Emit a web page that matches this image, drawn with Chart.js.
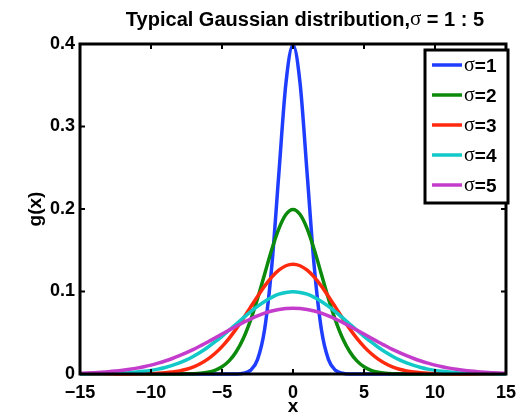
<!DOCTYPE html>
<html>
<head>
<meta charset="utf-8">
<script src="https://cdn.jsdelivr.net/npm/chart.js"></script>
<style>
  html, body { margin: 0; padding: 0; background: #fff; }
  #wrap { width: 524px; height: 419px; position: relative; }
</style>
</head>
<body>
<div id="wrap"><canvas id="gauss"></canvas></div>
<script>
// x positions (step 0.5)
const xValues = [-15,-14.5,-14,-13.5,-13,-12.5,-12,-11.5,-11,-10.5,-10,-9.5,-9,-8.5,-8,-7.5,-7,-6.5,-6,-5.5,-5,-4.5,-4,-3.5,-3,-2.5,-2,-1.5,-1,-0.5,0,0.5,1,1.5,2,2.5,3,3.5,4,4.5,5,5.5,6,6.5,7,7.5,8,8.5,9,9.5,10,10.5,11,11.5,12,12.5,13,13.5,14,14.5,15];

const sigmaLabels = ['1', '2', '3', '4', '5'];
const seriesColors = ['#1f3dff', '#0b8a0b', '#ff2a0e', '#12c8c8', '#c43ccc'];

const sigma1 = [0,0,0,0,0,0,0,0,0,0,0,0,0,0,0,0,0,0,0,0,0,0,0.0001,0.0009,0.0044,0.0175,0.0540,0.1295,0.2420,0.3521,0.3989,0.3521,0.2420,0.1295,0.0540,0.0175,0.0044,0.0009,0.0001,0,0,0,0,0,0,0,0,0,0,0,0,0,0,0,0,0,0,0,0,0,0];
const sigma2 = [0,0,0,0,0,0,0,0,0,0,0,0,0,0,0.0001,0.0002,0.0004,0.0010,0.0022,0.0045,0.0088,0.0159,0.0270,0.0431,0.0648,0.0913,0.1210,0.1506,0.1760,0.1933,0.1995,0.1933,0.1760,0.1506,0.1210,0.0913,0.0648,0.0431,0.0270,0.0159,0.0088,0.0045,0.0022,0.0010,0.0004,0.0002,0.0001,0,0,0,0,0,0,0,0,0,0,0,0,0,0];
const sigma3 = [0,0,0,0,0,0,0,0.0001,0.0002,0.0003,0.0005,0.0009,0.0015,0.0024,0.0038,0.0058,0.0087,0.0127,0.0180,0.0248,0.0332,0.0432,0.0547,0.0673,0.0807,0.0940,0.1065,0.1174,0.1258,0.1312,0.1330,0.1312,0.1258,0.1174,0.1065,0.0940,0.0807,0.0673,0.0547,0.0432,0.0332,0.0248,0.0180,0.0127,0.0087,0.0058,0.0038,0.0024,0.0015,0.0009,0.0005,0.0003,0.0002,0.0001,0,0,0,0,0,0,0];
const sigma4 = [0.0001,0.0001,0.0002,0.0003,0.0005,0.0008,0.0011,0.0016,0.0023,0.0032,0.0044,0.0059,0.0079,0.0104,0.0135,0.0172,0.0216,0.0266,0.0324,0.0388,0.0457,0.0530,0.0605,0.0680,0.0753,0.0820,0.0880,0.0929,0.0967,0.0989,0.0997,0.0989,0.0967,0.0929,0.0880,0.0820,0.0753,0.0680,0.0605,0.0530,0.0457,0.0388,0.0324,0.0266,0.0216,0.0172,0.0135,0.0104,0.0079,0.0059,0.0044,0.0032,0.0023,0.0016,0.0011,0.0008,0.0005,0.0003,0.0002,0.0001,0.0001];
const sigma5 = [0.0009,0.0012,0.0016,0.0021,0.0027,0.0035,0.0045,0.0057,0.0071,0.0088,0.0108,0.0131,0.0158,0.0188,0.0222,0.0259,0.0299,0.0343,0.0388,0.0436,0.0484,0.0532,0.0579,0.0625,0.0666,0.0704,0.0737,0.0763,0.0782,0.0794,0.0798,0.0794,0.0782,0.0763,0.0737,0.0704,0.0666,0.0625,0.0579,0.0532,0.0484,0.0436,0.0388,0.0343,0.0299,0.0259,0.0222,0.0188,0.0158,0.0131,0.0108,0.0088,0.0071,0.0057,0.0045,0.0035,0.0027,0.0021,0.0016,0.0012,0.0009];
const allSeries = [sigma1, sigma2, sigma3, sigma4, sigma5];

const xTicks = [-15, -10, -5, 0, 5, 10, 15];
const yTicks = [0, 0.1, 0.2, 0.3, 0.4];

const SANS = '"Liberation Sans", Arial, sans-serif';
const SERIF = '"Liberation Serif", "DejaVu Serif", serif';

// draw "σ" in serif followed by the rest in bold sans
function drawSigmaText(ctx, pre, rest, x, y, size, align) {
  ctx.save();
  ctx.textBaseline = 'middle';
  ctx.font = `bold ${size}px ${SANS}`;
  const wPre = ctx.measureText(pre).width;
  const wRest = ctx.measureText(rest).width;
  ctx.font = `${size + 1}px ${SERIF}`;
  const wSig = ctx.measureText('σ').width;
  const total = wPre + wSig + wRest;
  let cx = align === 'center' ? x - total / 2 : x;
  ctx.fillStyle = '#000';
  ctx.textAlign = 'left';
  ctx.font = `bold ${size}px ${SANS}`;
  ctx.fillText(pre, cx, y);
  cx += wPre;
  ctx.font = `${size + 1}px ${SERIF}`;
  ctx.fillText('σ', cx, y - 1);
  cx += wSig;
  ctx.font = `bold ${size}px ${SANS}`;
  ctx.fillText(rest, cx, y);
  ctx.restore();
}

const matlabFrame = {
  id: 'matlabFrame',
  afterDraw(chart) {
    const { ctx, chartArea: a, scales } = chart;
    ctx.save();
    // tick marks pointing inward on all four sides
    ctx.strokeStyle = '#000';
    ctx.lineWidth = 2;
    const tl = 5;
    xTicks.forEach(v => {
      const px = scales.x.getPixelForValue(v);
      ctx.beginPath();
      ctx.moveTo(px, a.bottom); ctx.lineTo(px, a.bottom - tl);
      ctx.moveTo(px, a.top); ctx.lineTo(px, a.top + tl);
      ctx.stroke();
    });
    yTicks.forEach(v => {
      const py = scales.y.getPixelForValue(v);
      ctx.beginPath();
      ctx.moveTo(a.left, py); ctx.lineTo(a.left + tl, py);
      ctx.moveTo(a.right, py); ctx.lineTo(a.right - tl, py);
      ctx.stroke();
    });
    // box
    ctx.lineWidth = 3;
    ctx.strokeRect(a.left, a.top, a.right - a.left, a.bottom - a.top);

    // title
    drawSigmaText(ctx, 'Typical Gaussian distribution,', ' = 1 : 5', 305, 20, 20, 'center');

    // axis titles
    ctx.fillStyle = '#000';
    ctx.font = `bold 19px ${SANS}`;
    ctx.textAlign = 'center';
    ctx.textBaseline = 'middle';
    ctx.fillText('x', (a.left + a.right) / 2, 407);
    ctx.save();
    ctx.translate(36, (a.top + a.bottom) / 2);
    ctx.rotate(-Math.PI / 2);
    ctx.fillText('g(x)', 0, 0);
    ctx.restore();

    // legend box
    const lx = 425, ly = 50, lw = 83, rowH = 30;
    const n = chart.data.datasets.length;
    ctx.fillStyle = '#fff';
    ctx.fillRect(lx, ly, lw, rowH * n + 3);
    ctx.lineWidth = 3;
    ctx.strokeRect(lx, ly, lw, rowH * n + 3);
    chart.data.datasets.forEach((ds, i) => {
      const cy = ly + 15 + i * rowH;
      ctx.strokeStyle = ds.borderColor;
      ctx.lineWidth = 3.5;
      ctx.beginPath();
      ctx.moveTo(lx + 7, cy);
      ctx.lineTo(lx + 37, cy);
      ctx.stroke();
      drawSigmaText(ctx, '', '=' + sigmaLabels[i], lx + 39, cy + 2, 19, 'left');
    });
    ctx.restore();
  }
};

const datasets = allSeries.map((vals, i) => ({
  label: 'σ=' + sigmaLabels[i],
  data: xValues.map((x, j) => ({ x: x, y: vals[j] })),
  borderColor: seriesColors[i],
  backgroundColor: seriesColors[i],
  borderWidth: 3.5,
  pointRadius: 0,
  cubicInterpolationMode: 'monotone',
  order: 5 - i,
  clip: 4
}));

new Chart(document.getElementById('gauss'), {
  type: 'line',
  data: { datasets: datasets },
  options: {
    responsive: true,
    maintainAspectRatio: false,
    animation: false,
    devicePixelRatio: 1,
    layout: { padding: { top: 44, right: 15, bottom: 0, left: 0 } },
    plugins: { legend: { display: false }, title: { display: false }, tooltip: { enabled: false } },
    scales: {
      x: {
        type: 'linear',
        min: -15, max: 15,
        afterFit: s => { s.height = 45; },
        afterBuildTicks: s => { s.ticks = xTicks.map(v => ({ value: v })); },
        grid: { display: false, drawTicks: false },
        border: { display: false },
        ticks: {
          color: '#000', padding: 8,
          font: { family: SANS, size: 18, weight: 'bold' },
          maxRotation: 0,
          callback: v => String(v).replace('-', '\u2212')
        }
      },
      y: {
        min: 0, max: 0.4,
        afterFit: s => { s.width = 80; },
        afterBuildTicks: s => { s.ticks = yTicks.map(v => ({ value: v })); },
        grid: { display: false, drawTicks: false },
        border: { display: false },
        ticks: {
          color: '#000', padding: 5,
          font: { family: SANS, size: 18, weight: 'bold' },
          callback: v => String(v)
        }
      }
    }
  },
  plugins: [matlabFrame]
});
</script>
</body>
</html>
